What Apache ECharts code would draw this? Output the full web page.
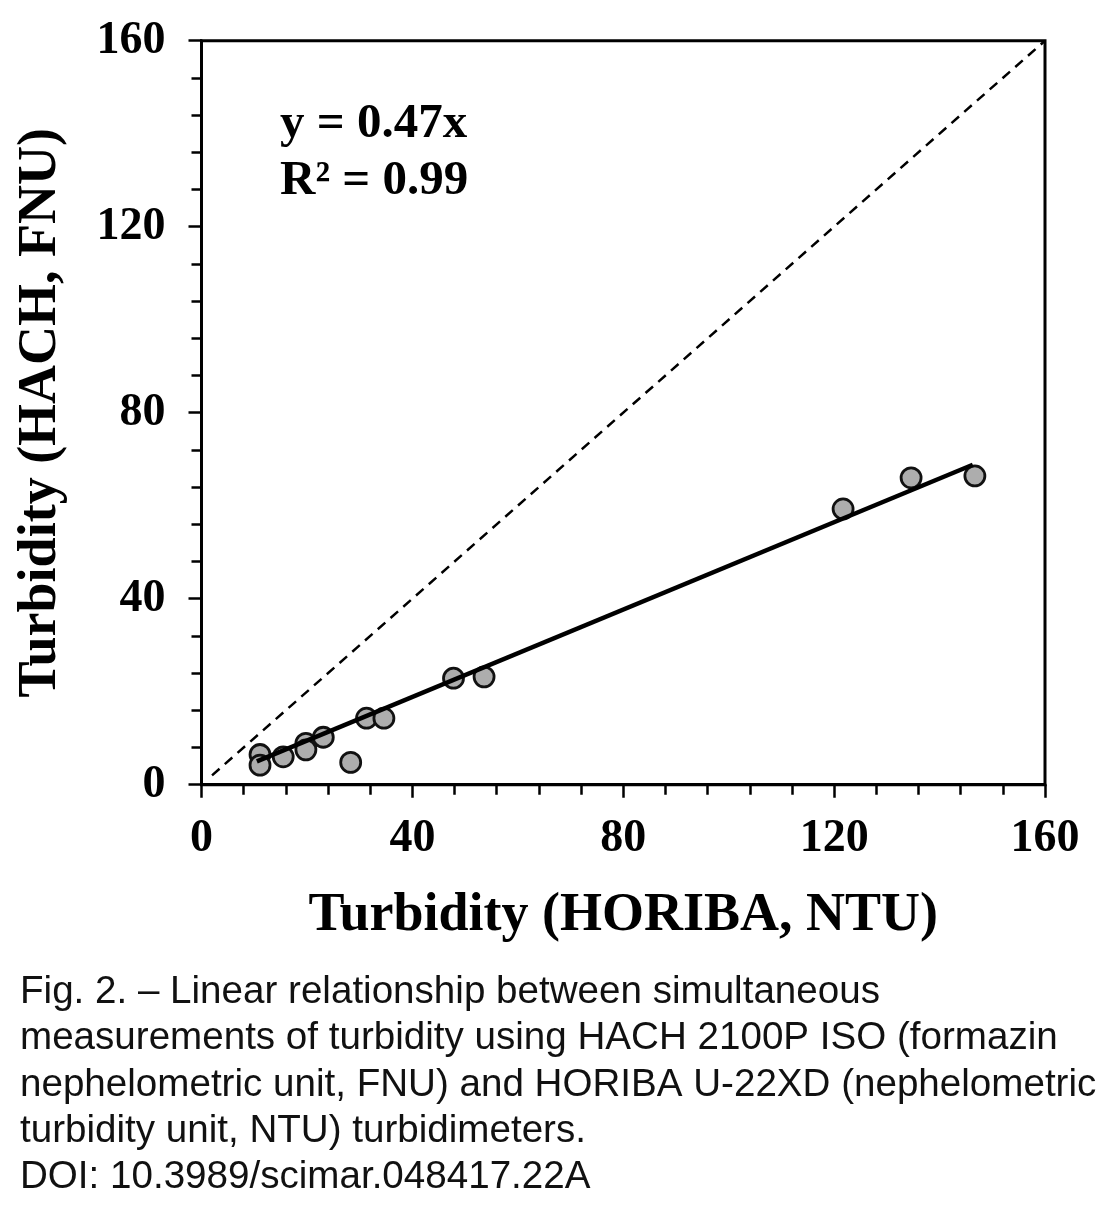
<!DOCTYPE html>
<html>
<head>
    <meta charset="utf-8">
    <title>Turbidity HACH vs HORIBA</title>
    <script src="https://cdn.jsdelivr.net/npm/echarts@6/dist/echarts.min.js"></script>
    <style>
        html, body { margin: 0; padding: 0; background: #fff; }
        #chart { width: 1117px; height: 1211px; }
    </style>
</head>
<body>
    <div id="chart"></div>
    <script type="text/javascript">
        // measured pairs: HORIBA (NTU) on x, HACH (FNU) on y
        var horiba = [11.1, 11.1, 15.5, 19.8, 19.8, 23.1, 28.3, 31.3, 34.6, 47.8, 53.6, 121.7, 134.6, 146.7];
        var hach   = [6.5, 4.2, 6.0, 8.9, 7.5, 10.2, 4.8, 14.3, 14.3, 22.9, 23.2, 59.3, 66.0, 66.4];

        // fitted line y = 0.47x, end points
        var fitLine = [[10.5, 5.0], [146.3, 68.8]];
        // 1:1 reference line
        var oneToOne = [[2, 2], [160, 160]];

        var axisTicks = [0, 40, 80, 120, 160];

        var caption = [
            'Fig. 2. \u2013 Linear relationship between simultaneous',
            'measurements of turbidity using HACH 2100P ISO (formazin',
            'nephelometric unit, FNU) and HORIBA U-22XD (nephelometric',
            'turbidity unit, NTU) turbidimeters.',
            'DOI: 10.3989/scimar.048417.22A'
        ];

        var points = horiba.map(function (x, i) { return [x, hach[i]]; });

        var serif = '"Liberation Serif", "Times New Roman", serif';
        var sans = '"Liberation Sans", Arial, Helvetica, sans-serif';

        var chart = echarts.init(document.getElementById('chart'));

        function valueAxis(name, gap, rotate, labelMargin) {
            return {
                type: 'value',
                min: axisTicks[0],
                max: axisTicks[axisTicks.length - 1],
                interval: 40,
                name: name,
                nameLocation: 'middle',
                nameGap: gap,
                nameRotate: rotate,
                nameTextStyle: { fontFamily: serif, fontWeight: 'bold', fontSize: 54, color: '#000' },
                axisLine: { show: true, onZero: false, lineStyle: { color: '#000', width: 3 } },
                axisTick: { show: true, inside: false, length: 13, lineStyle: { color: '#000', width: 2.5 } },
                minorTick: { show: true, splitNumber: 5, length: 10, lineStyle: { color: '#000', width: 2.5 } },
                axisLabel: { fontFamily: serif, fontWeight: 'bold', fontSize: 46, color: '#000', margin: labelMargin },
                splitLine: { show: false }
            };
        }

        var graphics = [
            {
                type: 'text', left: 280, top: 100,
                style: { text: 'y = 0.47x', font: 'bold 49px ' + serif, fill: '#000' }
            },
            {
                type: 'text', left: 280, top: 157,
                style: { text: 'R\u00b2 = 0.99', font: 'bold 49px ' + serif, fill: '#000' }
            }
        ];
        caption.forEach(function (line, i) {
            graphics.push({
                type: 'text', left: 20, top: 973 + i * 46.3,
                style: { text: line, font: '38.6px ' + sans, fill: '#111' }
            });
        });

        var option = {
            backgroundColor: '#fff',
            animation: false,
            grid: {
                left: 201.5, right: 72, top: 40.7, bottom: 426.3,
                show: true, borderColor: '#000', borderWidth: 3, backgroundColor: 'transparent'
            },
            xAxis: valueAxis('Turbidity (HORIBA, NTU)', 104, 0, 31),
            yAxis: valueAxis('Turbidity (HACH, FNU)', 133, 90, 36),
            graphic: graphics,
            series: [
                {
                    type: 'line',
                    data: oneToOne,
                    symbol: 'none',
                    silent: true,
                    lineStyle: { color: '#000', width: 2.5, type: [10, 7] }
                },
                {
                    type: 'line',
                    data: fitLine,
                    symbol: 'none',
                    silent: true,
                    lineStyle: { color: '#000', width: 4.5 }
                },
                {
                    type: 'scatter',
                    data: points,
                    symbol: 'circle',
                    symbolSize: 20,
                    itemStyle: { color: '#adadad', borderColor: '#111', borderWidth: 2.8, opacity: 1 }
                }
            ]
        };

        chart.setOption(option);
    </script>
</body>
</html>
